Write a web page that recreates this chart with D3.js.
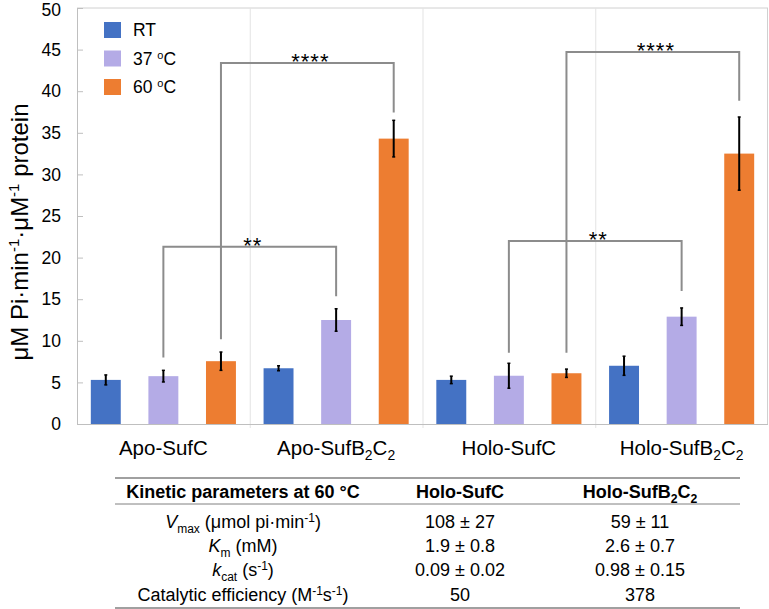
<!DOCTYPE html>
<html>
<head>
<meta charset="utf-8">
<script src="https://cdn.jsdelivr.net/npm/d3@7"></script>
<style>
  body { margin: 0; background: #fff; }
  text { font-family: "Liberation Sans", Arial, sans-serif; fill: #000; }
</style>
</head>
<body>
<div id="chart"></div>
<script>
// data
var categories = ["Apo-SufC", "Apo-SufB2C2", "Holo-SufC", "Holo-SufB2C2"];
var series = ["RT", "37", "60"];
var seriesNames = ["RT", "37 oC", "60 oC"];
var rtValues = [5.3, 6.7, 5.3, 7.0];
var rtErrors = [0.6, 0.3, 0.45, 1.15];
var t37Values = [5.75, 12.5, 5.8, 12.9];
var t37Errors = [0.7, 1.35, 1.5, 1.05];
var t60Values = [7.55, 34.3, 6.1, 32.5];
var t60Errors = [1.1, 2.2, 0.5, 4.4];
var yTicks = [0, 5, 10, 15, 20, 25, 30, 35, 40, 45, 50];

// significance brackets: [category, series] at each end, heights in axis units
var brackets = [
  { a: ["Apo-SufC", "37"], b: ["Apo-SufB2C2", "37"], top: 21.3, aEnd: 8.0, bEnd: 15.35, label: "**" },
  { a: ["Apo-SufC", "60"], b: ["Apo-SufB2C2", "60"], top: 43.4, aEnd: 10.2, bEnd: 37.45, label: "****" },
  { a: ["Holo-SufC", "37"], b: ["Holo-SufB2C2", "37"], top: 22.0, aEnd: 8.55, bEnd: 16.0, label: "**" },
  { a: ["Holo-SufC", "60"], b: ["Holo-SufB2C2", "60"], top: 44.7, aEnd: 8.55, bEnd: 38.85, label: "****" }
];

// table (segments: [text, "sup"/"sub"/"i"/""])
var tableHead = ["Kinetic parameters at 60 °C", "Holo-SufC", "Holo-SufB2C2"];
var paramNames = [
  [["V", "i"], ["max", "sub"], [" (μmol pi·min", ""], ["-1", "sup"], [")", ""]],
  [["K", "i"], ["m", "sub"], [" (mM)", ""]],
  [["k", "i"], ["cat", "sub"], [" (s", ""], ["-1", "sup"], [")", ""]],
  [["Catalytic efficiency (M", ""], ["-1", "sup"], ["s", ""], ["-1", "sup"], [")", ""]]
];
var holoSufC = ["108 ± 27", "1.9 ± 0.8", "0.09 ± 0.02", "50"];
var holoSufB2C2 = ["59 ± 11", "2.6 ± 0.7", "0.98 ± 0.15", "378"];

var colors = { "RT": "#4472c4", "37": "#b4abe6", "60": "#ed7d31" };
var valueBySeries = { "RT": rtValues, "37": t37Values, "60": t60Values };
var errorBySeries = { "RT": rtErrors, "37": t37Errors, "60": t60Errors };

var svgWidth = 769, svgHeight = 609;
var margin = { top: 8, right: 1, bottom: 185, left: 77 };
var width = svgWidth - margin.left - margin.right;
var height = 424 - margin.top;

var svg = d3.select("#chart").append("svg")
  .attr("width", svgWidth)
  .attr("height", svgHeight);

var chartGroup = svg.append("g")
  .attr("transform", `translate(${margin.left}, ${margin.top})`);

var x0 = d3.scaleBand().domain(categories).range([0, width]);
var x1 = d3.scaleBand().domain(series).range([0, x0.bandwidth()])
  .paddingInner(0.48).paddingOuter(0.24);
var y = d3.scaleLinear().domain([0, 50]).range([height, 0]);

function cx(cat, s) { return x0(cat) + x1(s) + x1.bandwidth() / 2; }

// frame and category separators
chartGroup.append("line")
  .attr("x1", 0).attr("x2", width).attr("y1", 0).attr("y2", 0)
  .attr("stroke", "#d0d0d0");
chartGroup.append("line")
  .attr("x1", width - 0.5).attr("x2", width - 0.5).attr("y1", 0).attr("y2", height)
  .attr("stroke", "#d0d0d0");
chartGroup.selectAll(".sep")
  .data(categories.slice(1))
  .enter().append("line")
  .attr("class", "sep")
  .attr("x1", d => x0(d) + 0.5).attr("x2", d => x0(d) + 0.5)
  .attr("y1", 0).attr("y2", height + 4)
  .attr("stroke", "#e3e3e3");

// y axis
var leftAxis = d3.axisLeft(y).tickValues(yTicks).tickSizeInner(-6).tickSizeOuter(0).tickPadding(16);
var yAxisG = chartGroup.append("g").call(leftAxis);
yAxisG.select(".domain").attr("stroke", "#bfbfbf");
yAxisG.selectAll(".tick line").attr("stroke", "#bfbfbf").attr("x2", 6);
yAxisG.selectAll(".tick text")
  .style("font-family", "'Liberation Sans', Arial, sans-serif")
  .style("font-size", "17.5px")
  .attr("fill", "#000")
  .attr("dy", d => d == 50 ? "0.4em" : "0.32em");

// x baseline
chartGroup.append("line")
  .attr("x1", 0).attr("x2", width).attr("y1", height + 0.5).attr("y2", height + 0.5)
  .attr("stroke", "#bfbfbf");

// bars
series.forEach(function(s) {
  var rows = categories.map((c, i) => ({ cat: c, v: valueBySeries[s][i], e: errorBySeries[s][i] }));
  chartGroup.selectAll(".bar-" + s)
    .data(rows)
    .enter().append("rect")
    .attr("x", d => x0(d.cat) + x1(s))
    .attr("y", d => y(d.v))
    .attr("width", x1.bandwidth())
    .attr("height", d => y(0) - y(d.v))
    .attr("fill", colors[s]);

  var err = chartGroup.selectAll(".err-" + s)
    .data(rows)
    .enter().append("g");
  err.append("line")
    .attr("x1", d => cx(d.cat, s)).attr("x2", d => cx(d.cat, s))
    .attr("y1", d => y(d.v + d.e)).attr("y2", d => y(d.v - d.e))
    .attr("stroke", "#000").attr("stroke-width", 2);
  err.append("line")
    .attr("x1", d => cx(d.cat, s) - 1.5).attr("x2", d => cx(d.cat, s) + 1.5)
    .attr("y1", d => y(d.v + d.e)).attr("y2", d => y(d.v + d.e))
    .attr("stroke", "#000").attr("stroke-width", 1.5);
  err.append("line")
    .attr("x1", d => cx(d.cat, s) - 1.5).attr("x2", d => cx(d.cat, s) + 1.5)
    .attr("y1", d => y(d.v - d.e)).attr("y2", d => y(d.v - d.e))
    .attr("stroke", "#000").attr("stroke-width", 1.5);
});

// brackets
brackets.forEach(function(b) {
  var xa = cx(b.a[0], b.a[1]), xb = cx(b.b[0], b.b[1]);
  chartGroup.append("path")
    .attr("d", `M${xa},${y(b.aEnd)}V${y(b.top)}H${xb}V${y(b.bEnd)}`)
    .attr("fill", "none")
    .attr("stroke", "#8c8c8c")
    .attr("stroke-width", 2);
  chartGroup.append("text")
    .attr("x", (xa + xb) / 2 + 3)
    .attr("y", y(b.top) + 6)
    .attr("text-anchor", "middle")
    .style("font-size", "22px")
    .style("letter-spacing", "1px")
    .text(b.label);
});

// label with subscripts like SufB2C2
function subLabel(sel, label, size) {
  var m = label.match(/^(.*B)2C2$/);
  if (!m) { sel.text(label); return; }
  sel.append("tspan").text(m[1]);
  sel.append("tspan").attr("dy", size * 0.25).style("font-size", (size * 0.68) + "px").text("2");
  sel.append("tspan").attr("dy", -size * 0.25).text("C");
  sel.append("tspan").attr("dy", size * 0.25).style("font-size", (size * 0.68) + "px").text("2");
}

// category labels
categories.forEach(function(c) {
  var t = chartGroup.append("text")
    .attr("x", x0(c) + x0.bandwidth() / 2)
    .attr("y", height + 31)
    .attr("text-anchor", "middle")
    .style("font-size", "20.5px");
  subLabel(t, c, 20.5);
});

// y title
var yTitle = svg.append("text")
  .attr("transform", "rotate(-90)")
  .attr("x", -232)
  .attr("y", 28)
  .attr("text-anchor", "middle")
  .style("font-size", "24px");
yTitle.append("tspan").text("μM Pi·min");
yTitle.append("tspan").attr("dy", -9).style("font-size", "15px").text("-1");
yTitle.append("tspan").attr("dy", 9).text("·μM");
yTitle.append("tspan").attr("dy", -9).style("font-size", "15px").text("-1");
yTitle.append("tspan").attr("dy", 9).text(" protein");

// legend
var legend = svg.append("g").attr("transform", "translate(104, 22)");
series.forEach(function(s, i) {
  legend.append("rect")
    .attr("x", 0).attr("y", i * 28.5)
    .attr("width", 17).attr("height", 16)
    .attr("fill", colors[s]);
  var t = legend.append("text")
    .attr("x", 29).attr("y", i * 28.5 + 14)
    .style("font-size", "17.5px");
  var name = seriesNames[i];
  if (name.indexOf("oC") > 0) {
    t.append("tspan").text(name.replace(" oC", " "));
    t.append("tspan").attr("dy", -6).style("font-size", "11px").text("o");
    t.append("tspan").attr("dy", 6).text("C");
  } else {
    t.text(name);
  }
});

// table
var tableX = [243, 460, 640];
var tableLeft = 115, tableRight = 740;
var tbl = svg.append("g");
tbl.append("line").attr("x1", tableLeft).attr("x2", tableRight).attr("y1", 478).attr("y2", 478)
  .attr("stroke", "#808080").attr("stroke-width", 1.5);
tbl.append("line").attr("x1", tableLeft).attr("x2", tableRight).attr("y1", 504).attr("y2", 504)
  .attr("stroke", "#808080").attr("stroke-width", 1);
tbl.append("line").attr("x1", tableLeft).attr("x2", tableRight).attr("y1", 608).attr("y2", 608)
  .attr("stroke", "#808080").attr("stroke-width", 1.5);

tableHead.forEach(function(h, i) {
  var t = tbl.append("text")
    .attr("x", tableX[i]).attr("y", 498)
    .attr("text-anchor", "middle")
    .style("font-size", "18px")
    .style("font-weight", "bold");
  subLabel(t, h, 18);
});

var rowY = [528, 552, 576, 601];
var tableRows = paramNames.map((p, i) => [p, holoSufC[i], holoSufB2C2[i]]);

tableRows.forEach(function(r, i) {
  var t = tbl.append("text")
    .attr("x", tableX[0]).attr("y", rowY[i])
    .attr("text-anchor", "middle")
    .style("font-size", "18px");
  var shift = 0;
  r[0].forEach(function(seg) {
    var target = seg[1] == "sup" ? -6 : seg[1] == "sub" ? 5 : 0;
    var ts = t.append("tspan").attr("dy", target - shift).text(seg[0]);
    shift = target;
    if (seg[1] == "sup" || seg[1] == "sub") ts.style("font-size", "12px");
    if (seg[1] == "i") ts.style("font-style", "italic");
  });
  [1, 2].forEach(function(j) {
    tbl.append("text")
      .attr("x", tableX[j]).attr("y", rowY[i])
      .attr("text-anchor", "middle")
      .style("font-size", "18px")
      .text(r[j]);
  });
});
</script>
</body>
</html>
